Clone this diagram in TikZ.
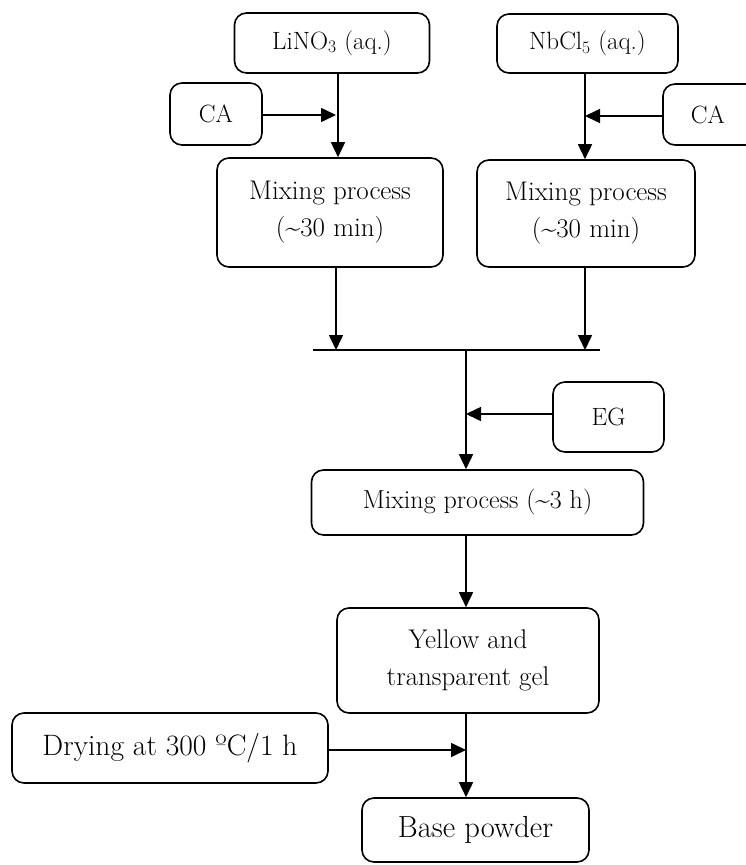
\documentclass[tikz,border=0pt]{standalone}
\usepackage{fontspec}
\usetikzlibrary{arrows.meta,calc}
\begin{document}
\begin{tikzpicture}[x=1pt,y=-1pt,
  box/.style={draw,line width=1.6pt,rounded corners=12pt,align=center,inner sep=0pt,font=\fontsize{27}{37}\selectfont},
  small/.style={font=\fontsize{25}{30}\selectfont},
  arr/.style={line width=1.6pt,-{Triangle[length=15pt,width=14pt]}},
  ln/.style={line width=1.6pt}]
\useasboundingbox (0,0) rectangle (745,865);
\node[box,small,minimum width=195pt,minimum height=60pt] (lino) at (332,43) {LiNO\textsubscript{3} (aq.)};
\node[box,small,minimum width=181pt,minimum height=59pt] (nbcl) at (587.5,43.5) {NbCl\textsubscript{5} (aq.)};
\node[box,small,minimum width=92pt,minimum height=62pt] (caL) at (216,114) {CA};
\draw[line width=1.6pt,rounded corners=12pt] (755,84) -- (663,84) -- (663,145) -- (755,145);
\node[small] (caR) at (708,114.5) {CA};
\coordinate (caRw) at (663,116);
\node[box,minimum width=226pt,minimum height=109pt] (mixL) at (330,212.5) {Mixing process\\(\textasciitilde30 min)};
\node[box,minimum width=218pt,minimum height=107pt] (mixR) at (586,213.5) {Mixing process\\(\textasciitilde30 min)};
\coordinate (bL) at (313,350);
\coordinate (bR) at (600,350);
\coordinate (bM) at (466,350);
\node[box,small,minimum width=111pt,minimum height=70pt] (eg) at (608.5,417) {EG};
\node[box,minimum width=332pt,minimum height=65pt,font=\fontsize{26}{30}\selectfont] (mix3) at (477.5,502.5) {Mixing process (\textasciitilde3 h)};
\node[box,minimum width=262pt,minimum height=105pt] (gel) at (468,660.5) {Yellow and\\transparent gel};
\node[box,minimum width=316pt,minimum height=70pt,font=\fontsize{29.5}{34}\selectfont] (dry) at (170,748) {Drying at 300 ºC/1 h};
\node[box,minimum width=227pt,minimum height=64pt,font=\fontsize{30.5}{35}\selectfont] (base) at (475.5,830) {Base powder};
% junctions
\coordinate (jL) at (338,115);
\coordinate (jR) at (585,116);
\coordinate (jE) at (466,414);
\coordinate (jD) at (466,750);
% left column
\draw[ln] (lino.south -| jL) -- (jL);
\draw[arr] (jL) -- (mixL.north -| jL);
\draw[arr,shorten >=2pt] (caL.east |- jL) -- (jL);
% right column
\draw[ln] (nbcl.south -| jR) -- (jR);
\draw[arr] (jR) -- (mixR.north -| jR);
\draw[arr] (caRw) -- (jR);
% to bar
\draw[arr] (mixL.south -| 336,0) -- (336,350);
\draw[arr] (mixR.south -| jR) -- (bR -| jR);
\draw[ln] (bL) -- (bR);
\draw[ln] (bM) -- (jE);
\draw[arr] (jE) -- (mix3.north -| jE);
\draw[arr] (eg.west |- jE) -- (jE);
\draw[arr] (mix3.south -| jE) -- (gel.north -| jE);
\draw[ln] (gel.south -| jD) -- (jD);
\draw[arr] (jD) -- (base.north -| jD);
\draw[arr] (dry.east |- jD) -- (jD);
\end{tikzpicture}
\end{document}
